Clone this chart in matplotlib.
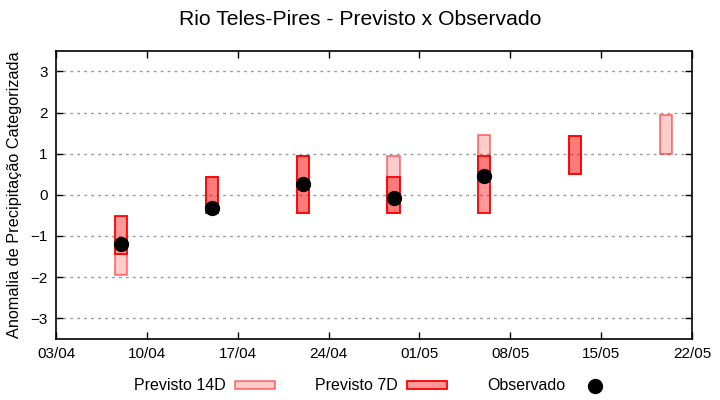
import matplotlib
matplotlib.use("Agg")
import matplotlib.pyplot as plt
import matplotlib.dates as mdates
from matplotlib.patches import Patch
from matplotlib.lines import Line2D
import numpy as np
import pandas as pd

plt.rcParams["font.family"] = ["Liberation Sans", "DejaVu Sans"]

# data
dates = pd.to_datetime(["2024-04-08", "2024-04-15", "2024-04-22", "2024-04-29",
                        "2024-05-06", "2024-05-13", "2024-05-20"])
p14_low = [-1.95, -0.45, -0.45, -0.45, 0.45, 0.50, 1.00]
p14_high = [-1.45, 0.43, 0.95, 0.95, 1.45, 1.43, 1.95]
p7_low = [-1.45, -0.45, -0.45, -0.45, -0.45, 0.50, np.nan]
p7_high = [-0.52, 0.43, 0.95, 0.43, 0.95, 1.43, np.nan]
obs_dates = dates[:5]
obs = [-1.20, -0.31, 0.26, -0.08, 0.46]

tick_dates = pd.date_range("2024-04-03", "2024-05-22", freq="7D")

fig = plt.figure(figsize=(7.2, 4.0), dpi=100)
ax = fig.add_axes([0.078, 0.153, 0.883, 0.72])

c14_face = (1, 0, 0, 0.2)
c14_edge = (1, 0, 0, 0.5)
c7_face = (1, 0, 0, 0.4)
c7_edge = (1, 0, 0, 1.0)

h14 = np.array(p14_high) - np.array(p14_low)
h7 = np.array(p7_high) - np.array(p7_low)
ax.bar(dates, h14, bottom=p14_low, width=0.95, color=c14_face,
       edgecolor=c14_edge, linewidth=1.3, zorder=3)
ax.bar(dates, h7, bottom=p7_low, width=0.95, color=c7_face,
       edgecolor=c7_edge, linewidth=1.3, zorder=4)
ax.plot(obs_dates, obs, "o", color="black", markersize=10, zorder=5)

ax.set_xlim(tick_dates[0], tick_dates[-1])
ax.set_xticks(tick_dates)
ax.xaxis.set_major_formatter(mdates.DateFormatter("%d/%m"))
ax.set_ylim(-3.5, 3.5)
ax.set_yticks([-3, -2, -1, 0, 1, 2, 3])
ax.tick_params(direction="in", top=True, right=True, length=5, width=1,
               labelsize=11, pad=6)
ax.grid(axis="y", linestyle=(0, (2, 3)), color="#999999", linewidth=1)
ax.set_axisbelow(False)
for s in ax.spines.values():
    s.set_linewidth(1.2)

ax.set_ylabel("Anomalia de Precipitação Categorizada", fontsize=11.7, labelpad=6)
fig.suptitle("Rio Teles-Pires - Previsto x Observado", fontsize=15.2, y=0.975)

handles = [
    Patch(facecolor=c14_face, edgecolor=c14_edge, linewidth=1.3),
    Patch(facecolor=c7_face, edgecolor=c7_edge, linewidth=1.3),
    Line2D([], [], marker="o", color="black", linestyle="none", markersize=10),
]
fig.legend(handles, ["Previsto 14D", "Previsto 7D", "Observado"],
           loc="center", bbox_to_anchor=(0.52, 0.035), ncol=3, frameon=False,
           markerfirst=False, fontsize=11.5, handlelength=2.5, handleheight=0.4,
           columnspacing=2.5, handletextpad=0.6)

fig.savefig("out.png", dpi=100)
